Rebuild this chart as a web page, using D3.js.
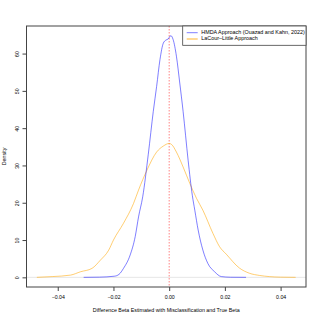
<!DOCTYPE html>
<html><head><meta charset="utf-8">
<script src="https://cdn.jsdelivr.net/npm/d3@7"></script>
<style>body{margin:0;background:#fff}svg{display:block}text{font-family:"Liberation Sans",Arial,sans-serif;fill:#000}</style>
</head><body><svg id="c" width="320" height="320"></svg>
<script>
const hmdaX = [-0.0307,-0.025,-0.0197,-0.018,-0.0164,-0.014,-0.0122,-0.011,-0.0095,-0.0075,-0.0057,-0.0045,-0.0033,-0.0021,-0.0012,-0.0004,0.0006,0.0014,0.0026,0.0038,0.005,0.0068,0.0083,0.0092,0.0104,0.0121,0.0139,0.0163,0.0187,0.022,0.0276];
const hmdaDensity = [0,0.05,0.3,0.8,2.4,6,10.9,16.2,21.6,33,44.5,51.2,58.4,62.8,63.6,63.9,64.8,63.8,59.3,52.1,44.5,31.4,22,18,12.7,7.3,3.7,1.5,0.2,0.03,0];
const lacourX = [-0.0475,-0.042,-0.0354,-0.0318,-0.0277,-0.0247,-0.0217,-0.02,-0.0164,-0.0128,-0.011,-0.008,-0.0045,-0.0021,0,0.0009,0.0026,0.005,0.0074,0.0098,0.0121,0.0157,0.0181,0.0205,0.0252,0.0288,0.0325,0.0359,0.04,0.0454];
const lacourDensity = [0,0.2,0.6,1.5,2.4,4.6,7.3,10,14.5,19.8,23.4,28.7,33.6,35.2,35.9,35.6,33.6,29.6,25.2,21.2,18,11.8,8.2,6.2,2.5,1.1,0.5,0.2,0.05,0];
const xTicks = [-0.04,-0.02,0.00,0.02,0.04];
const yTicks = [0,10,20,30,40,50,60];
const seriesNames = ["HMDA Approach (Ouazad and Kahn, 2022)","LaCour\u2013Little Approach"];
const xTitle = "Difference Beta Estimated with Misclassification and True Beta";
const yTitle = "Density";

const svg = d3.select("#c");
const L=26.5, R=306, T=26, B=287;
const xMin=-0.0475, xMax=0.0454, yMax=64.8;
const xPad=(xMax-xMin)*0.04, yPad=yMax*0.04;
const x = d3.scaleLinear().domain([xMin-xPad, xMax+xPad]).range([L,R]);
const y = d3.scaleLinear().domain([-yPad, yMax+yPad]).range([B,T]);

svg.append("line").attr("x1",L).attr("x2",R).attr("y1",y(0)).attr("y2",y(0)).attr("stroke","#e6e6e6").attr("stroke-width",1);
svg.append("line").attr("x1",x(0)).attr("x2",x(0)).attr("y1",T).attr("y2",B).attr("stroke","#ff6666").attr("stroke-width",0.8).attr("stroke-dasharray","1.5,1.5");

const line = d3.line().curve(d3.curveMonotoneX);
const blueC="rgba(0,0,255,0.5)", orangeC="rgba(255,165,0,0.55)";
svg.append("path").attr("d",line(lacourX.map((v,i)=>[x(v),y(lacourDensity[i])]))).attr("fill","none").attr("stroke",orangeC).attr("stroke-width",1);
svg.append("path").attr("d",line(hmdaX.map((v,i)=>[x(v),y(hmdaDensity[i])]))).attr("fill","none").attr("stroke",blueC).attr("stroke-width",1);

svg.append("rect").attr("x",L).attr("y",T).attr("width",R-L).attr("height",B-T).attr("fill","none").attr("stroke","#444").attr("stroke-width",1);

const fmt = d3.format(".2f");
const xa = svg.append("g").attr("transform",`translate(0,${B})`).call(d3.axisBottom(x).tickValues(xTicks).tickSize(4).tickPadding(4).tickFormat(d=>d===0?"0.00":fmt(d).replace("-","\u2212")));
const ya = svg.append("g").attr("transform",`translate(${L},0)`).call(d3.axisLeft(y).tickValues(yTicks).tickSize(4).tickFormat(d3.format("d")));
[xa,ya].forEach(a=>{a.select(".domain").remove();a.selectAll("line").attr("stroke","#444");a.selectAll("text").attr("font-size",5.2).attr("font-family","Liberation Sans, Arial, sans-serif").attr("fill","#222");});
ya.selectAll(".tick text").attr("text-anchor","middle").attr("x",0).attr("dy",0).attr("transform","translate(-9,0) rotate(-90)").attr("dominant-baseline","middle");

svg.append("text").attr("x",(L+R)/2).attr("y",312).attr("text-anchor","middle").attr("font-size",5.3).attr("fill","#222").text(xTitle);
svg.append("text").attr("transform",`translate(6,${(T+B)/2}) rotate(-90)`).attr("text-anchor","middle").attr("font-size",5.3).attr("fill","#222").text(yTitle);

const lg = svg.append("g");
lg.append("rect").attr("x",182.7).attr("y",T).attr("width",R-182.7).attr("height",19.3).attr("fill","#fff").attr("stroke","#444").attr("stroke-width",0.8);
[blueC,orangeC].forEach((c,i)=>{
  const yy=32.7+i*6.3;
  lg.append("line").attr("x1",186.7).attr("x2",197.7).attr("y1",yy).attr("y2",yy).attr("stroke",c).attr("stroke-width",i?1.5:1);
  lg.append("text").attr("x",201.3).attr("y",yy).attr("dominant-baseline","middle").attr("font-size",5.4).attr("fill","#222").text(seriesNames[i]);
});
</script></body></html>
